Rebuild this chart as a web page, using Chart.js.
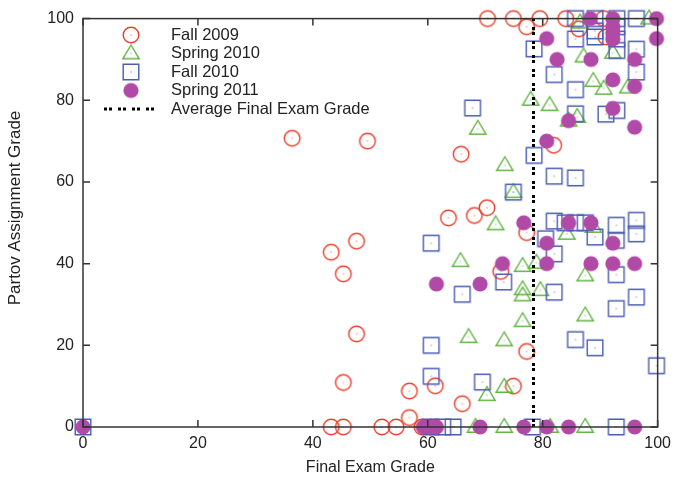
<!DOCTYPE html>
<html>
<head>
<meta charset="utf-8">
<script src="https://cdn.jsdelivr.net/npm/chart.js@4/dist/chart.umd.min.js"></script>
<style>
  body { margin: 0; background: #fff; }
  canvas { display: block; }
</style>
</head>
<body>
<canvas id="chartGrades" width="678" height="479"></canvas>
<script>
// [final exam grade, partov assignment grade]
var fall2009 = [
    [36.4,70.7],[49.5,70],[43.2,42.8],[45.3,37.5],[47.6,45.5],[47.6,22.8],[45.3,10.9],[43.2,0],[45.3,0],
    [52,0],[54.5,0],[56.8,2.3],[56.8,8.8],[59,0],[60.5,0],[61.3,10.1],[66,5.7],[65.8,66.8],[63.6,51.2],
    [68.1,51.8],[70.3,53.7],[72.7,38.1],[74.9,10],[77.2,18.5],[77.2,47.6],[70.4,100],[74.9,100],[77.2,98],
    [79.5,100],[81.9,69],[84,100],[86.3,97.5],[90.6,100],[91,95.5]
];
var spring2010 = [
    [68.7,73],[77.9,80.1],[81.2,78.8],[87.1,90.7],[92.2,91.6],[88.8,84.7],[90.6,82.8],[94.8,83.1],[86,75.9],
    [84.5,75],[86.5,99],[98.5,100],[73.4,64.1],[74.9,57.5],[71.8,49.6],[65.7,40.6],[76.5,39.4],[76.5,33.7],
    [76.5,32.2],[78.9,40.2],[84.2,47.3],[88.8,49],[87.4,37.1],[79.6,33.5],[76.5,25.9],[67.1,22],[73.3,21.2],
    [73.3,9.8],[70.3,7.8],[68.3,0],[73.3,0],[81.3,0],[87.4,0],[87.4,27.3]
];
var fall2010 = [
    [0,0],[67.8,78.1],[78.5,92.6],[82,86.3],[85.7,82.6],[85.7,95],[85.7,100],[89.1,100],[89.1,97],[89.1,95.5],
    [92.9,100],[92.9,98],[92.9,95],[92.9,92.2],[96.3,100],[96.3,92.5],[96.3,86.9],[85.7,76.7],[91,76.6],
    [92.9,77.5],[78.5,66.5],[82,61.4],[85.7,61],[82,50.4],[83.9,50],[85.7,50],[87.4,50],[89.1,46.5],[92.8,49.4],
    [92.8,45.7],[96.3,50.6],[96.3,47.3],[82,42.4],[80.5,46.1],[92.8,37.3],[82,33],[96.3,31.8],[92.8,29],
    [85.7,21.4],[89.1,19.4],[99.8,15],[92.8,0],[78.2,0],[74.9,57.5],[60.6,45],[73.2,35.5],[66,32.5],[60.6,20],
    [60.6,12.4],[69.5,11],[62.6,0],[64.4,0],[60.5,0]
];
var spring2011 = [
    [0,0],[80.7,95.1],[82.5,90],[88.3,100],[88.4,90],[92.2,100],[92.2,98],[92.2,96.5],[92.2,95],[99.8,100],
    [99.8,95.1],[96,90],[92.2,85],[96,83.4],[92.2,78],[84.5,75],[96,73.4],[80.7,70],[76.7,50],[84.5,50],
    [88.4,50],[80.7,45],[92.2,45],[73,40],[80.7,40],[88.4,40],[92.2,40],[96,40],[61.5,35],[69.1,35],
    [59.2,0],[60.3,0],[61.5,0],[69.1,0],[76.7,0],[80.7,0],[84.5,0],[96,0]
];
var averageExam = 78.4;
var gradeRange = [0, 100];

var labels = ["Fall 2009", "Spring 2010", "Fall 2010", "Spring 2011", "Average Final Exam Grade"];
var yTitle = "Partov Assignment Grade";
var xTitle = "Final Exam Grade";
var font = "Liberation Sans, Arial, Helvetica, sans-serif";

function toPoints(list) {
    return list.map(function (p) { return {x: p[0], y: p[1]}; });
}

// gnuplot-like point symbols with the little dot in the middle
function symbol(kind, color) {
    var c = document.createElement("canvas");
    c.width = 24; c.height = 24;
    var g = c.getContext("2d");
    g.strokeStyle = color;
    g.fillStyle = color;
    g.lineWidth = 1.4;
    g.beginPath();
    if (kind === "circle") {
        g.arc(12, 12, 7.8, 0, Math.PI * 2);
        g.stroke();
    } else if (kind === "triangle") {
        g.moveTo(12, 3.5);
        g.lineTo(20.2, 17.3);
        g.lineTo(3.8, 17.3);
        g.closePath();
        g.stroke();
    } else if (kind === "square") {
        g.rect(4.2, 4.2, 15.6, 15.6);
        g.stroke();
    } else {
        g.arc(12, 12, 7.6, 0, Math.PI * 2);
        g.fill();
        return c;
    }
    g.fillRect(11.5, 11.5, 1, 1);
    return c;
}

var colors = ["#ec3d2b", "#62b545", "#4b5cb4", "#b14aa6"];
var symbols = [
    symbol("circle", colors[0]),
    symbol("triangle", colors[1]),
    symbol("square", colors[2]),
    symbol("disc", colors[3])
];

// frame + inward ticks on every side, y title, and the legend inside the plot
var framePlugin = {
    id: "frame",
    afterDraw: function (chart) {
        var ctx = chart.ctx, a = chart.chartArea;
        var xs = chart.scales.x, ys = chart.scales.y;
        ctx.save();
        ctx.strokeStyle = "#333";
        ctx.lineWidth = 1.5;
        ctx.strokeRect(a.left, a.top, a.right - a.left, a.bottom - a.top);
        ctx.beginPath();
        xs.ticks.forEach(function (t) {
            var px = xs.getPixelForValue(t.value);
            ctx.moveTo(px, a.bottom); ctx.lineTo(px, a.bottom - 7);
            ctx.moveTo(px, a.top); ctx.lineTo(px, a.top + 7);
        });
        ys.ticks.forEach(function (t) {
            var py = ys.getPixelForValue(t.value);
            ctx.moveTo(a.left, py); ctx.lineTo(a.left + 7, py);
            ctx.moveTo(a.right, py); ctx.lineTo(a.right - 7, py);
        });
        ctx.stroke();

        ctx.fillStyle = "#222";
        ctx.textBaseline = "middle";
        ctx.textAlign = "center";
        ctx.font = "17px " + font;
        ctx.save();
        ctx.translate(15, 208);
        ctx.rotate(-Math.PI / 2);
        ctx.fillText(yTitle, 0, 0);
        ctx.restore();

        ctx.textAlign = "left";
        ctx.font = "16.5px " + font;
        var rows = [35, 53.5, 72, 90.5, 109];
        for (var i = 0; i < 4; i++) {
            ctx.drawImage(symbols[i], 131 - 12, rows[i] - 12);
            ctx.fillText(labels[i], 171, rows[i]);
        }
        ctx.strokeStyle = "#000";
        ctx.lineWidth = 3;
        ctx.setLineDash([3, 2, 3, 6]);
        ctx.beginPath();
        ctx.moveTo(104, rows[4]);
        ctx.lineTo(154, rows[4]);
        ctx.stroke();
        ctx.setLineDash([]);
        ctx.fillText(labels[4], 171, rows[4]);
        ctx.restore();
    }
};

var grades = document.getElementById("chartGrades").getContext("2d");
var chart = new Chart(grades, {
    type: "scatter",
    data: {
        datasets: [
            { label: labels[0], data: toPoints(fall2009), pointStyle: symbols[0], order: 5, clip: false },
            { label: labels[1], data: toPoints(spring2010), pointStyle: symbols[1], order: 4, clip: false },
            { label: labels[2], data: toPoints(fall2010), pointStyle: symbols[2], order: 3, clip: false },
            { label: labels[3], data: toPoints(spring2011), pointStyle: symbols[3], order: 2, clip: false },
            {
                label: labels[4],
                type: "line",
                data: [{x: averageExam, y: gradeRange[0]}, {x: averageExam, y: gradeRange[1]}],
                borderColor: "#000",
                borderWidth: 3,
                borderDash: [3, 2, 3, 6],
                pointRadius: 0,
                fill: false,
                order: 1
            }
        ]
    },
    options: {
        responsive: false,
        animation: false,
        devicePixelRatio: 1,
        layout: { padding: { top: 18, right: 17, left: 0, bottom: 0 } },
        plugins: { legend: { display: false }, tooltip: { enabled: false } },
        scales: {
            x: {
                type: "linear",
                min: gradeRange[0],
                max: gradeRange[1],
                grid: { display: false, drawTicks: false },
                border: { display: false },
                ticks: { stepSize: 20, padding: 7, color: "#222", font: { family: font, size: 16 } },
                title: { display: true, text: xTitle, color: "#222", font: { family: font, size: 16 }, padding: { top: 0, bottom: 2 } },
                afterFit: function (s) { s.height = 52; }
            },
            y: {
                type: "linear",
                min: gradeRange[0],
                max: gradeRange[1],
                grid: { display: false, drawTicks: false },
                border: { display: false },
                ticks: { stepSize: 20, padding: 9, color: "#222", font: { family: font, size: 16 } },
                afterFit: function (s) { s.width = 83; }
            }
        }
    },
    plugins: [framePlugin]
});
</script>
</body>
</html>
